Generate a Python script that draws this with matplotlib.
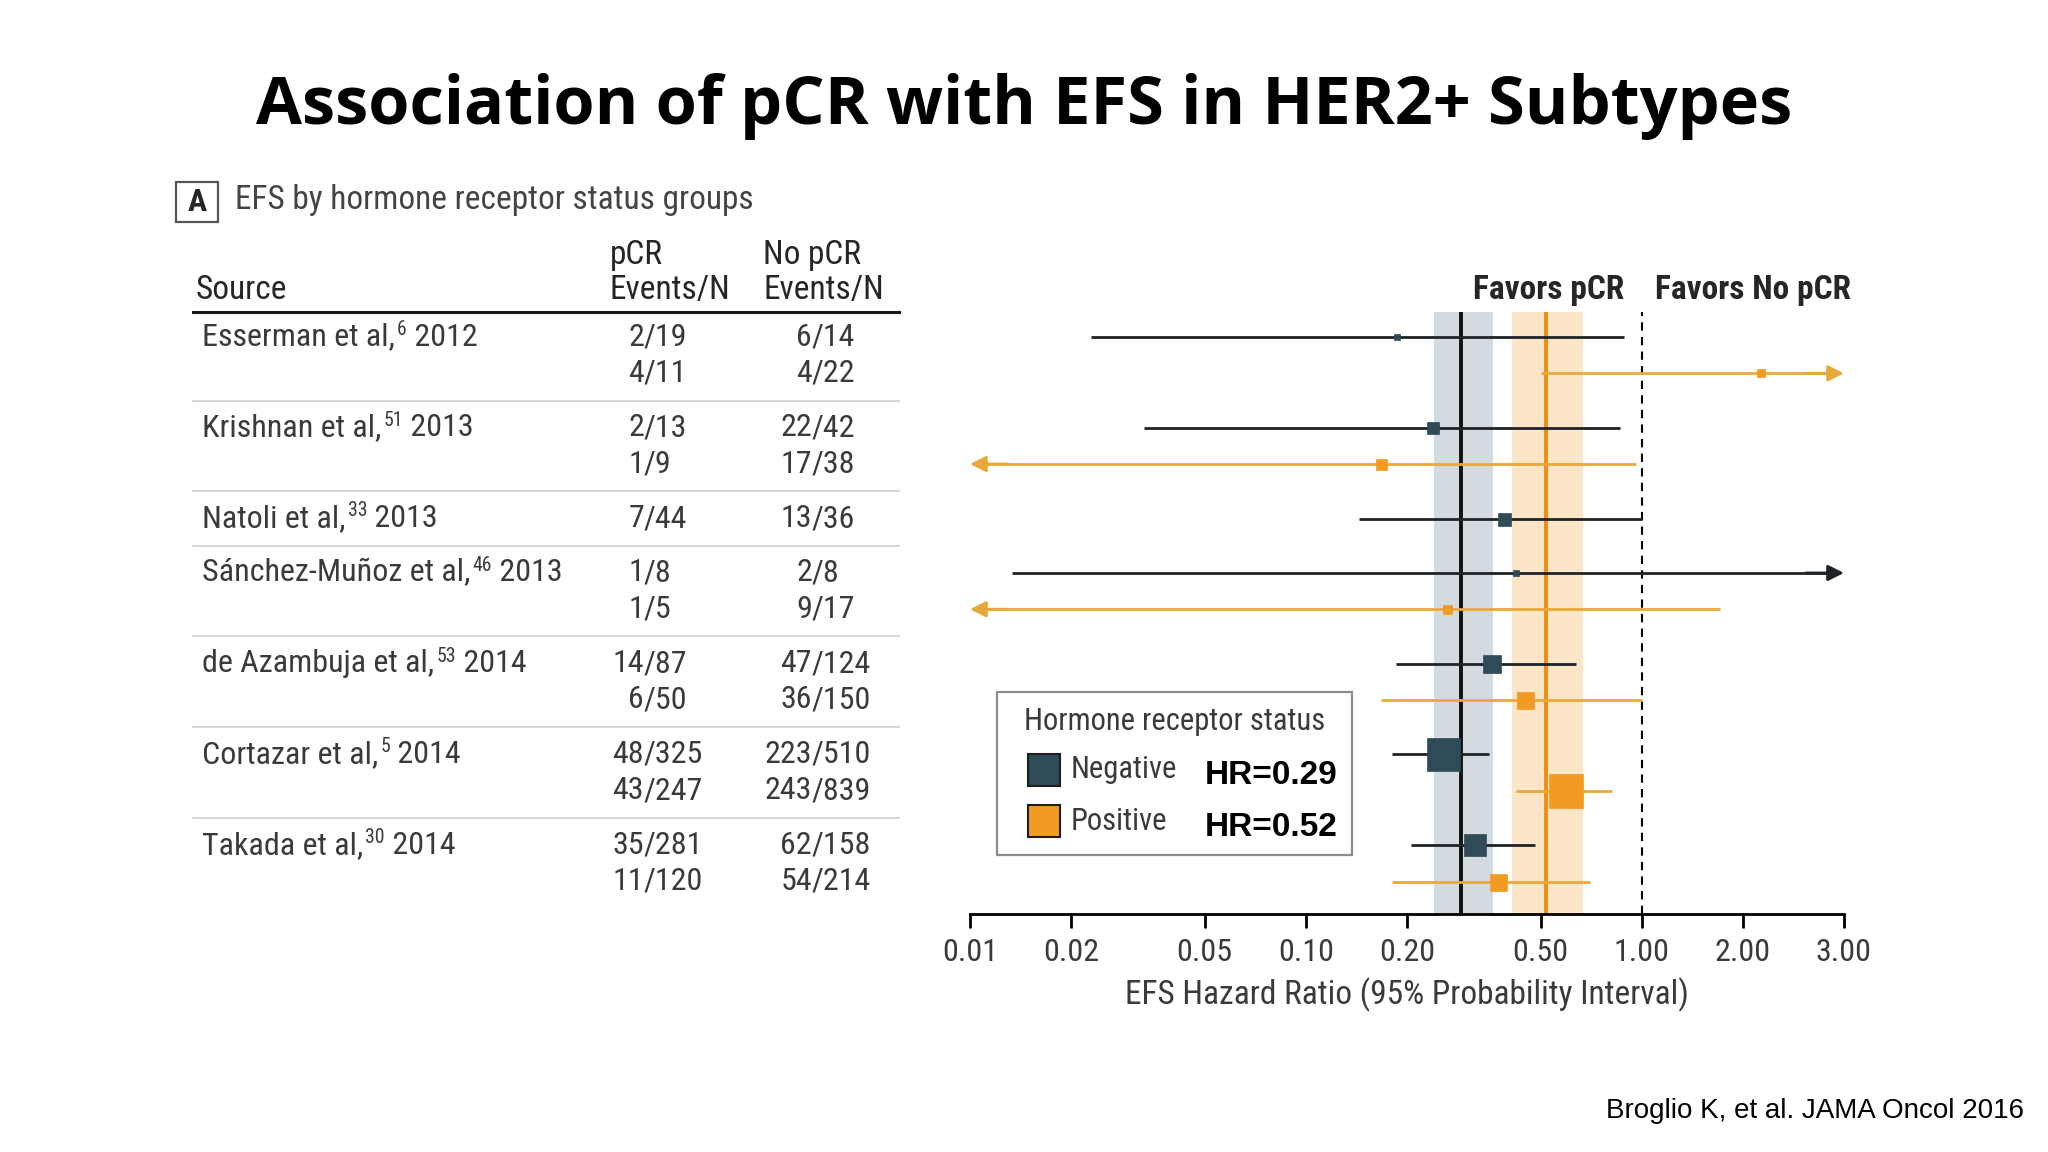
import numpy as np
import matplotlib.pyplot as plt
from matplotlib import font_manager as fm
from matplotlib.lines import Line2D
from matplotlib.patches import Rectangle
from matplotlib.ticker import NullLocator
from matplotlib.transforms import blended_transform_factory

W, H = 2048, 1152          # output size in px, layout below is in these px


def fx(x):
    return x / W


def fy(y):
    return 1 - y / H


def find_font(weight):
    # the journal figure uses a condensed sans, take the best one installed
    prefs = [lambda f: f.name == "Liberation Sans Narrow",
             lambda f: f.name == "Roboto Condensed",
             lambda f: "Condensed" in f.name and "Extra" not in f.name
             and "Semi" not in f.name,
             lambda f: f.stretch == "condensed",
             lambda f: "Narrow" in f.name or "Condensed" in f.name
             or f.stretch == "semi-condensed"]
    for pref in prefs:
        for f in fm.fontManager.ttflist:
            w = f.weight if isinstance(f.weight, int) else (700 if f.weight == "bold" else 400)
            if pref(f) and f.style == "normal" and abs(w - weight) <= 100:
                return f
    return None


_reg = find_font(400)
_bold = find_font(700)
NARROW = fm.FontProperties(fname=_reg.fname) if _reg else fm.FontProperties(family="DejaVu Sans")
NARROW_B = fm.FontProperties(fname=_bold.fname) if _bold else fm.FontProperties(family="DejaVu Sans", weight="bold")
ARIAL = ["Liberation Sans", "DejaVu Sans"]
TITLE_FONT = ["Open Sans", "DejaVu Sans"]

# --- data -------------------------------------------------------------
study_names = ["Esserman et al,", "Krishnan et al,", "Natoli et al,",
               "S\u00e1nchez-Mu\u00f1oz et al,", "de Azambuja et al,",
               "Cortazar et al,", "Takada et al,"]
study_refs = ["6", "51", "33", "46", "53", "5", "30"]
study_years = ["2012", "2013", "2013", "2013", "2014", "2014", "2014"]
row_study = [0, 0, 1, 1, 2, 3, 3, 4, 4, 5, 5, 6, 6]
row_status = ["neg", "pos", "neg", "pos", "neg", "neg", "pos",
              "neg", "pos", "neg", "pos", "neg", "pos"]
pcr_events = ["2/19", "4/11", "2/13", "1/9", "7/44", "1/8", "1/5",
              "14/87", "6/50", "48/325", "43/247", "35/281", "11/120"]
nopcr_events = ["6/14", "4/22", "22/42", "17/38", "13/36", "2/8", "9/17",
                "47/124", "36/150", "223/510", "243/839", "62/158", "54/214"]
# hazard ratio and 95% interval; lo=0 / hi=inf -> runs off the axis
hr = [0.187, 2.26, 0.239, 0.167, 0.389, 0.423, 0.263,
      0.359, 0.448, 0.256, 0.593, 0.319, 0.373]
lo = [0.0229, 0.50, 0.0329, 0, 0.144, 0.0133, 0,
      0.185, 0.167, 0.181, 0.423, 0.205, 0.181]
hi = [0.887, np.inf, 0.859, 0.96, 1.0, np.inf, 1.71,
      0.636, 1.0, 0.351, 0.817, 0.482, 0.699]
weight = [6, 8, 12, 11, 13, 6, 9, 18, 17, 33, 34, 22, 17]

pooled_hr = {"neg": 0.29, "pos": 0.52}
pooled_int = {"neg": (0.24, 0.36), "pos": (0.41, 0.67)}

tick_vals = [0.01, 0.02, 0.05, 0.1, 0.2, 0.5, 1.0, 2.0, 4.0]
tick_labels = ["0.01", "0.02", "0.05", "0.10", "0.20", "0.50", "1.00", "2.00", "3.00"]
XMIN, XMAX = 0.01, 4.0

# --- colours ----------------------------------------------------------
LINE_C = {"neg": "#1e2326", "pos": "#e9a93a"}
MARK_C = {"neg": "#2f4b58", "pos": "#f39a22"}
BAND_C = {"neg": "#d4dbe0", "pos": "#fde5c8"}
POOL_C = {"neg": "#111111", "pos": "#f28c10"}
TXT = "#3a3a3a"
HEAD = "#262626"
FS = 23

# row positions: 1 unit within a study, 1.5 between studies
ypos = [0.0]
for i in range(1, len(row_study)):
    step = 1.0 if row_study[i] == row_study[i - 1] else 1.5
    ypos.append(ypos[-1] + step)
ypos = np.array(ypos)

fig = plt.figure(figsize=(W / 100, H / 100), dpi=100)
fig.patch.set_facecolor("white")

ax_top, ax_bot = 312, 914
ax = fig.add_axes([fx(970), fy(ax_bot), fx(1844) - fx(970), (ax_bot - ax_top) / H])
ax.set_xscale("log")
ax.set_xlim(XMIN, XMAX)
unit = 36.3   # px per row unit
ax.set_ylim((ax_bot - 337) / unit, -(337 - ax_top) / unit)

for k in ("neg", "pos"):
    ax.axvspan(*pooled_int[k], color=BAND_C[k], lw=0, zorder=0)
ax.axvline(pooled_hr["neg"], color=POOL_C["neg"], lw=2.8, zorder=2)
ax.axvline(pooled_hr["pos"], color=POOL_C["pos"], lw=2.8, zorder=2)
ax.axvline(1.0, color="black", lw=1.5, ls=(0, (4, 3)), zorder=2)

for i, y in enumerate(ypos):
    st = row_status[i]
    c = LINE_C[st]
    x0 = lo[i] if lo[i] > 0 else XMIN * 1.05
    x1 = hi[i] if np.isfinite(hi[i]) else XMAX * 0.95
    ax.plot([x0, x1], [y, y], color=c, lw=2.0, zorder=3, solid_capstyle="butt")
    arrow = dict(arrowstyle="-|>", color=c, lw=2.0, mutation_scale=24,
                 shrinkA=0, shrinkB=0)
    if lo[i] <= 0:
        ax.annotate("", xy=(XMIN, y), xytext=(XMIN * 1.3, y), arrowprops=arrow,
                    zorder=3)
    if not np.isfinite(hi[i]):
        ax.annotate("", xy=(XMAX, y), xytext=(XMAX / 1.3, y), arrowprops=arrow,
                    zorder=3)
    ax.plot(hr[i], y, marker="s", ms=weight[i] * 0.72, mfc=MARK_C[st],
            mec=MARK_C[st], mew=0.5, zorder=5)

for s in ("top", "left", "right"):
    ax.spines[s].set_visible(False)
ax.spines["bottom"].set_linewidth(2.0)
ax.set_yticks([])
ax.set_xticks(tick_vals)
ax.set_xticklabels(tick_labels, fontproperties=NARROW, fontsize=FS)
ax.xaxis.set_minor_locator(NullLocator())
ax.tick_params(axis="x", direction="out", length=10, width=2, pad=7,
               labelcolor=TXT)
ax.set_xlabel("EFS Hazard Ratio (95% Probability Interval)",
              fontproperties=NARROW, fontsize=FS + 1, color=TXT, labelpad=8)
ax.patch.set_alpha(0)

# --- title and panel label -------------------------------------------
fig.text(0.5, fy(107), "Association of pCR with EFS in HER2+ Subtypes",
         ha="center", va="center", fontsize=48, fontweight="bold",
         family=TITLE_FONT, color="black")
fig.add_artist(Rectangle((fx(176), fy(222)), fx(218) - fx(176), (222 - 182) / H,
                         transform=fig.transFigure, fill=False,
                         ec="#555555", lw=1.6))
fig.text(fx(197), fy(202), "A", ha="center", va="center",
         fontproperties=NARROW_B, fontsize=FS, color=HEAD)
fig.text(fx(235), fy(200), "EFS by hormone receptor status groups", ha="left",
         va="center", fontproperties=NARROW, fontsize=FS + 1, color="#444444")

# --- table -------------------------------------------------------------
fig.text(fx(196), fy(290), "Source", ha="left", va="center",
         fontproperties=NARROW, fontsize=FS + 1, color=HEAD)
for x0, top in ((610, "pCR"), (763, "No pCR")):
    fig.text(fx(x0), fy(255), top, ha="left", va="center",
             fontproperties=NARROW, fontsize=FS + 1, color=HEAD)
    fig.text(fx(x0), fy(290), "Events/N", ha="left", va="center",
             fontproperties=NARROW, fontsize=FS + 1, color=HEAD)
fig.add_artist(Line2D([fx(193), fx(899)], [fy(ax_top), fy(ax_top)],
                      transform=fig.transFigure, color="#1a1a1a", lw=2.2))

trans = blended_transform_factory(fig.transFigure, ax.transData)
seen = set()
for i, y in enumerate(ypos):
    sidx = row_study[i]
    if sidx not in seen:
        seen.add(sidx)
        name = fig.text(fx(202), y, study_names[sidx], transform=trans,
                        ha="left", va="center", fontproperties=NARROW,
                        fontsize=FS, color=TXT)
        sup = ax.annotate(study_refs[sidx], xy=(1, 0), xycoords=name,
                          xytext=(1.5, 9), textcoords="offset points",
                          ha="left", va="bottom", fontproperties=NARROW,
                          fontsize=FS * 0.62, color=TXT, annotation_clip=False)
        ax.annotate(" " + study_years[sidx], xy=(1, 0), xycoords=(sup, name),
                    ha="left", va="bottom", fontproperties=NARROW,
                    fontsize=FS, color=TXT, annotation_clip=False)
        if i > 0:
            ysep = (ypos[i] + ypos[i - 1]) / 2
            fig.add_artist(Line2D([fx(193), fx(899)], [ysep, ysep],
                                  transform=trans, color="#d2d2d2", lw=1.3))
    for xs, val in ((644, pcr_events[i]), (812, nopcr_events[i])):
        num, den = val.split("/")
        fig.text(fx(xs), y, num, transform=trans, ha="right", va="center",
                 fontproperties=NARROW, fontsize=FS, color=TXT)
        fig.text(fx(xs), y, "/" + den, transform=trans, ha="left", va="center",
                 fontproperties=NARROW, fontsize=FS, color=TXT)

# --- favours labels -------------------------------------------------------
fig.text(fx(1549), fy(290), "Favors pCR", ha="center", va="center",
         fontproperties=NARROW_B, fontsize=FS + 1, color=HEAD)
fig.text(fx(1753), fy(290), "Favors No pCR", ha="center", va="center",
         fontproperties=NARROW_B, fontsize=FS + 1, color=HEAD)

# --- legend ---------------------------------------------------------------
fig.add_artist(Rectangle((fx(997), fy(855)), fx(1352) - fx(997), (855 - 692) / H,
                         transform=fig.transFigure, fc="white",
                         ec="#8c8c8c", lw=1.6))
fig.text(fx(1024), fy(722), "Hormone receptor status", ha="left", va="center",
         fontproperties=NARROW, fontsize=FS - 1, color=TXT)
for yc, k, lab in ((770, "neg", "Negative"), (821, "pos", "Positive")):
    fig.add_artist(Rectangle((fx(1028), fy(yc + 16)), fx(1060) - fx(1028), 32 / H,
                             transform=fig.transFigure, fc=MARK_C[k],
                             ec="#1e1e1e", lw=1.5))
    fig.text(fx(1071), fy(yc), lab, ha="left", va="center",
             fontproperties=NARROW, fontsize=FS - 1, color=TXT)
    fig.text(fx(1205), fy(yc + 6), "HR=%.2f" % pooled_hr[k], ha="left",
             va="center", fontsize=24, family=ARIAL, fontweight="bold",
             color="black")

fig.text(fx(2024), fy(1111), "Broglio K, et al. JAMA Oncol 2016", ha="right",
         va="center", fontsize=20, family=ARIAL, color="black")

fig.savefig("out.png", dpi=100)
